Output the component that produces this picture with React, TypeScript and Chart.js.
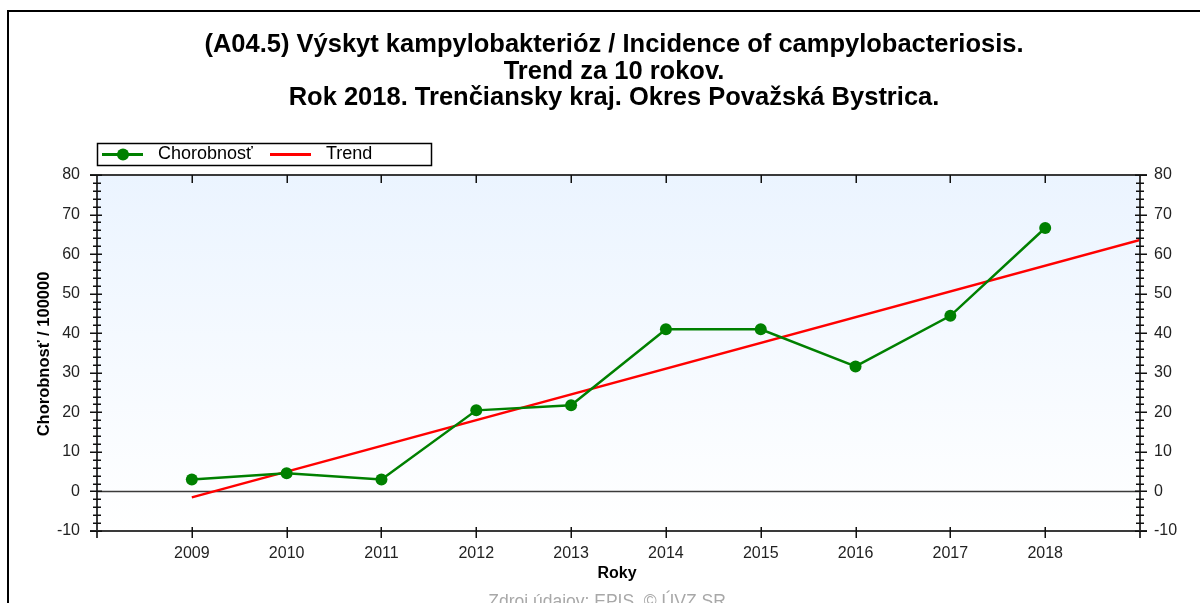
import { useEffect, useRef } from "react";
import { Chart, registerables } from "chart.js";

Chart.register(...registerables);

const titleLines = [
  "(A04.5) Výskyt kampylobakterióz / Incidence of campylobacteriosis.",
  "Trend za 10 rokov.",
  "Rok 2018. Trenčiansky kraj. Okres Považská Bystrica.",
];
const years = [2009, 2010, 2011, 2012, 2013, 2014, 2015, 2016, 2017, 2018];
const incidence = [3.0, 4.6, 3.0, 20.5, 21.8, 41.0, 41.0, 31.6, 44.4, 66.6];
const trendYears = [2009, 2019];
const trendValues = [-1.5, 63.6];
const seriesLabel = "Chorobnosť";
const trendLabel = "Trend";
const yAxisTitle = "Chorobnosť / 100000";
const xAxisTitle = "Roky";
const footerText = "Zdroj údajov: EPIS, © ÚVZ SR";
const yMin = -10;
const yMax = 80;
const xMin = 2008;
const xMax = 2019;

const FONT = "'Liberation Sans', Arial, sans-serif";
const GREEN = "#008000";
const RED = "#ff0000";
const AXIS = "#3a3a3a";

const decorPlugin = {
  id: "decor",
  beforeDraw(chart: any) {
    const { ctx, chartArea: a } = chart;
    ctx.save();
    ctx.fillStyle = "#ffffff";
    ctx.fillRect(0, 0, chart.width, chart.height);
    // outer border
    ctx.strokeStyle = "#000";
    ctx.lineWidth = 2;
    ctx.beginPath();
    ctx.moveTo(8, chart.height);
    ctx.lineTo(8, 11);
    ctx.lineTo(chart.width, 11);
    ctx.stroke();
    // plot background gradient
    const g = ctx.createLinearGradient(0, a.top, 0, a.bottom);
    g.addColorStop(0, "#ebf4ff");
    g.addColorStop(1, "#ffffff");
    ctx.fillStyle = g;
    ctx.fillRect(a.left, a.top, a.right - a.left, a.bottom - a.top);
    ctx.restore();
  },
  beforeDatasetsDraw(chart: any) {
    const { ctx, chartArea: a, scales } = chart;
    const y0 = scales.y.getPixelForValue(0);
    ctx.save();
    ctx.strokeStyle = AXIS;
    ctx.lineWidth = 1.5;
    ctx.beginPath();
    ctx.moveTo(a.left, y0);
    ctx.lineTo(a.right, y0);
    ctx.stroke();
    ctx.restore();
  },
  afterDraw(chart: any) {
    const { ctx, chartArea: a, scales } = chart;
    const L = a.left, R = a.right, T = a.top, B = a.bottom;
    ctx.save();
    ctx.strokeStyle = AXIS;
    ctx.lineWidth = 2;
    ctx.beginPath();
    ctx.moveTo(L - 7, T); ctx.lineTo(R + 7, T);
    ctx.moveTo(L - 7, B); ctx.lineTo(R + 7, B);
    ctx.moveTo(L, T); ctx.lineTo(L, B + 7);
    ctx.moveTo(R, T); ctx.lineTo(R, B + 7);
    ctx.stroke();
    // y ticks
    ctx.lineWidth = 1.5;
    ctx.strokeStyle = "#111";
    ctx.beginPath();
    for (let v = yMin; v <= yMax; v += 2) {
      const py = Math.round(scales.y.getPixelForValue(v)) + 0.25;
      const major = v % 10 === 0;
      if (major) {
        ctx.moveTo(L - 7, py); ctx.lineTo(L + 5, py);
        ctx.moveTo(R - 5, py); ctx.lineTo(R + 7, py);
      } else {
        ctx.moveTo(L - 4, py); ctx.lineTo(L + 4, py);
        ctx.moveTo(R - 4, py); ctx.lineTo(R + 4, py);
      }
    }
    for (const yr of years) {
      const px = Math.round(scales.x.getPixelForValue(yr)) + 0.25;
      ctx.moveTo(px, B - 4); ctx.lineTo(px, B + 7);
      ctx.moveTo(px, T); ctx.lineTo(px, T + 8);
    }
    ctx.stroke();

    // titles
    ctx.fillStyle = "#000";
    ctx.textAlign = "center";
    ctx.textBaseline = "alphabetic";
    ctx.font = `bold 25.5px ${FONT}`;
    const baselines = [52, 78.5, 105];
    titleLines.forEach((t, i) => ctx.fillText(t, 614, baselines[i]));

    ctx.textBaseline = "middle";
    // y axis title
    ctx.save();
    ctx.translate(44, 354);
    ctx.rotate(-Math.PI / 2);
    ctx.font = `bold 16.5px ${FONT}`;
    ctx.fillText(yAxisTitle, 0, 0);
    ctx.restore();

    // x axis title
    ctx.font = `bold 16px ${FONT}`;
    ctx.fillText(xAxisTitle, 617, 574);

    // footer
    ctx.fillStyle = "#a8a8a8";
    ctx.font = `17.5px ${FONT}`;
    ctx.fillText(footerText, 607, 602);

    // legend
    ctx.strokeStyle = "#000";
    ctx.lineWidth = 1.5;
    ctx.strokeRect(97.5, 143.5, 334, 22);
    const ly = 154.5;
    ctx.lineWidth = 3;
    ctx.strokeStyle = GREEN;
    ctx.beginPath();
    ctx.moveTo(102, ly); ctx.lineTo(143, ly);
    ctx.stroke();
    ctx.fillStyle = GREEN;
    ctx.beginPath();
    ctx.arc(123, ly, 6, 0, Math.PI * 2);
    ctx.fill();
    ctx.strokeStyle = RED;
    ctx.beginPath();
    ctx.moveTo(270, ly); ctx.lineTo(311, ly);
    ctx.stroke();
    ctx.fillStyle = "#000";
    ctx.textAlign = "left";
    ctx.font = `18px ${FONT}`;
    ctx.fillText(seriesLabel, 158, ly);
    ctx.fillText(trendLabel, 326, ly);
    ctx.restore();
  },
};

export default function App() {
  const ref = useRef<HTMLCanvasElement | null>(null);
  useEffect(() => {
    if (!ref.current) return;
    const tickFont = { family: FONT, size: 16 };
    const chart = new Chart(ref.current, {
      type: "line",
      data: {
        datasets: [
          {
            label: seriesLabel,
            data: years.map((x, i) => ({ x, y: incidence[i] })),
            borderColor: GREEN,
            backgroundColor: GREEN,
            borderWidth: 2.5,
            pointRadius: 6,
            pointBorderWidth: 0,
            pointBackgroundColor: GREEN,
            tension: 0,
          },
          {
            label: trendLabel,
            data: trendYears.map((x, i) => ({ x, y: trendValues[i] })),
            borderColor: RED,
            borderWidth: 2.5,
            pointRadius: 0,
            tension: 0,
          },
        ],
      },
      options: {
        responsive: false,
        animation: false,
        devicePixelRatio: 1,
        layout: { padding: { top: 175, left: 0, right: 0, bottom: 0 } },
        plugins: {
          legend: { display: false },
          title: { display: false },
          tooltip: { enabled: false },
        },
        scales: {
          x: {
            type: "linear",
            min: xMin,
            max: xMax,
            grid: { display: false, drawTicks: false },
            border: { display: false },
            ticks: {
              stepSize: 1,
              autoSkip: false,
              padding: 13,
              color: "#222",
              font: tickFont,
              callback: (v: any) => (years.includes(Number(v)) ? String(v) : ""),
            },
            afterFit: (s: any) => {
              s.height = 72;
            },
          },
          y: {
            type: "linear",
            position: "left",
            min: yMin,
            max: yMax,
            grid: { display: false, drawTicks: false },
            border: { display: false },
            ticks: { stepSize: 10, padding: 17, color: "#222", font: tickFont },
            afterFit: (s: any) => {
              s.width = 97;
            },
          },
          y2: {
            type: "linear",
            position: "right",
            min: yMin,
            max: yMax,
            grid: { display: false, drawTicks: false },
            border: { display: false },
            ticks: { stepSize: 10, padding: 14, color: "#222", font: tickFont },
            afterFit: (s: any) => {
              s.width = 60;
            },
          },
        },
      },
      plugins: [decorPlugin],
    } as any);
    return () => chart.destroy();
  }, []);
  return (
    <div style={{ position: "absolute", left: 0, top: 0, width: 1200, height: 603 }}>
      <canvas ref={ref} width={1200} height={603} />
    </div>
  );
}
